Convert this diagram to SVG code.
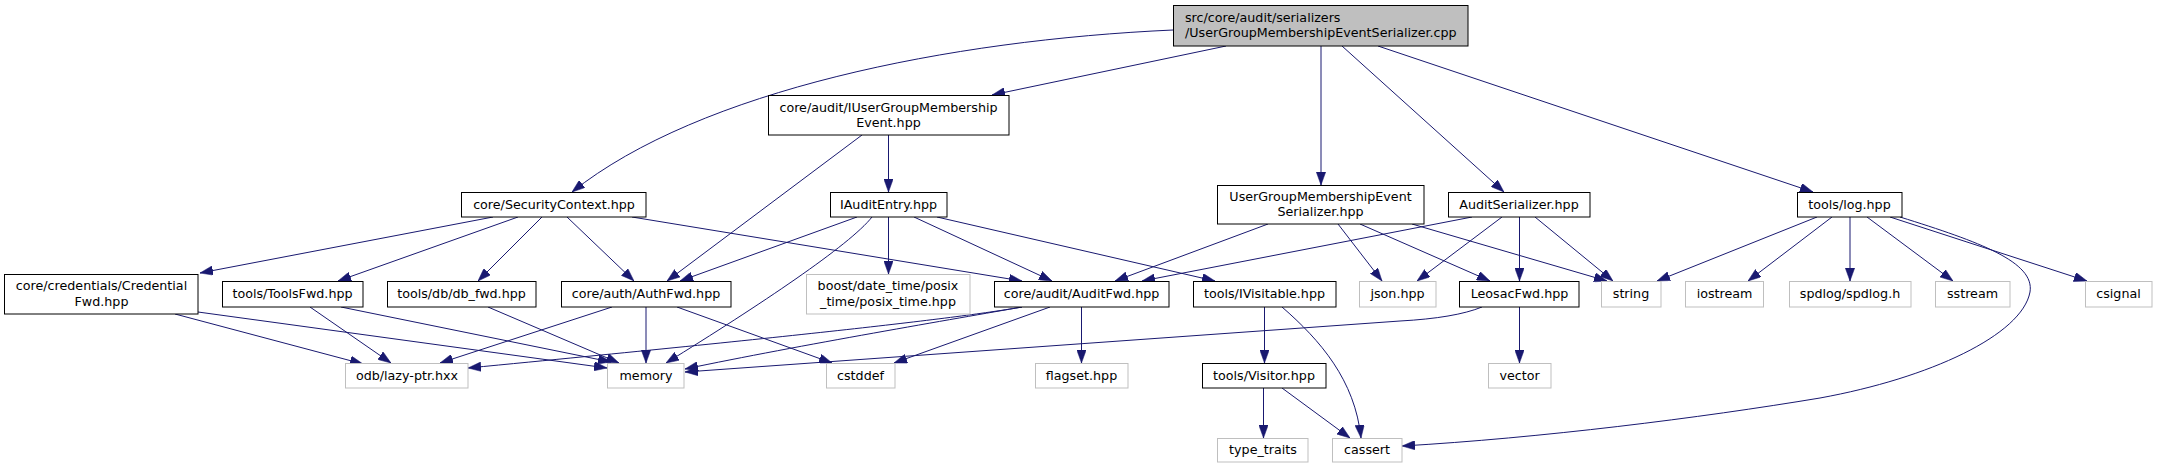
<svg xmlns="http://www.w3.org/2000/svg" width="2157" height="469" viewBox="0 0 2157 469">
<defs>
<style>
.n rect{fill:#ffffff;stroke:#000000;stroke-width:1}
.g rect{fill:#ffffff;stroke:#bfbfbf;stroke-width:1}
.r rect{fill:#bfbfbf;stroke:#000000;stroke-width:1}
text{font-family:"DejaVu Sans","Liberation Sans",sans-serif;font-size:12.7px;fill:#000000;text-anchor:middle}
text.l{text-anchor:start}
#edges path{fill:none;stroke:#191970;stroke-width:1;marker-end:url(#ah)}
</style>
<marker id="ah" viewBox="0 0 13 9.4" refX="13" refY="4.7" markerUnits="userSpaceOnUse" markerWidth="13" markerHeight="9.4" orient="auto">
<path d="M0,0 L13,4.7 L0,9.4 z" fill="#191970" stroke="#191970" stroke-width="0.5"/>
</marker>
</defs>
<rect x="0" y="0" width="2157" height="469" fill="#ffffff"/>
<g id="edges">
<path d="M1173,30 C950,40 700,90 572,192"/>
<path d="M1226,46 L992,95"/>
<path d="M1321,46 L1321,185"/>
<path d="M1342,46 L1504,192"/>
<path d="M1378,46 L1813,192"/>
<path d="M888.5,135 L888.5,192"/>
<path d="M862,135 L667,281"/>
<path d="M493,217 L200,273"/>
<path d="M518,217 L338,281"/>
<path d="M542,217 L478,281"/>
<path d="M567,217 L634,281"/>
<path d="M632,217 L1022,281"/>
<path d="M857,217 L680,281"/>
<path d="M888.5,217 L888.5,274"/>
<path d="M914,217 L1052,281"/>
<path d="M937,217 L1215,281"/>
<path d="M872,217 C850,245 760,305 666,363"/>
<path d="M1268,224 L1115,281"/>
<path d="M1338,224 L1382,281"/>
<path d="M1360,224 L1490,281"/>
<path d="M1412,224 L1607,281"/>
<path d="M1472,217 L1142,281"/>
<path d="M1502,217 L1417,281"/>
<path d="M1519.5,217 L1519.5,281"/>
<path d="M1535,217 L1613,281"/>
<path d="M1817,217 L1657,281"/>
<path d="M1832,217 L1748,281"/>
<path d="M1850,217 L1850,281"/>
<path d="M1867,217 L1953,281"/>
<path d="M1890,217 L2087,281"/>
<path d="M1900,217 C1980,242 2035,262 2030,292 C2022,335 1930,378 1820,398 C1700,418 1540,438 1402,446"/>
<path d="M175,314 L363,364"/>
<path d="M198,312 L607,368"/>
<path d="M310,307 L391,363"/>
<path d="M341,307 L611,362"/>
<path d="M488,307 L619,363"/>
<path d="M612,307 L440,363"/>
<path d="M646,307 L646,363"/>
<path d="M677,307 L832,363"/>
<path d="M1022,307 C960,318 800,336 468,368"/>
<path d="M1022,307 C960,318 800,345 685,369"/>
<path d="M1050,307 L894,363"/>
<path d="M1081.5,307 L1081.5,363"/>
<path d="M1264.5,307 L1264.5,363"/>
<path d="M1282,307 C1320,340 1355,380 1361,438"/>
<path d="M1263.5,388 L1263.5,438"/>
<path d="M1282,388 L1350,438"/>
<path d="M1482,307 Q1455,318 1400,321 L685,372"/>
<path d="M1519.5,307 L1519.5,363"/>
</g>
<g id="root" class="r"><rect x="1173.5" y="5.5" width="294.5" height="40.5"/><text class="l" x="1185" y="22">src/core/audit/serializers</text><text class="l" x="1185" y="37">/UserGroupMembershipEventSerializer.cpp</text></g>
<g id="iugme" class="n"><rect x="768.5" y="95.5" width="240.5" height="39.5"/><text x="888.5" y="111.5">core/audit/IUserGroupMembership</text><text x="888.5" y="126.7">Event.hpp</text></g>
<g id="securitycontext" class="n"><rect x="461.5" y="192.5" width="184.5" height="24.5"/><text x="554" y="208.8">core/SecurityContext.hpp</text></g>
<g id="iauditentry" class="n"><rect x="830.5" y="192.5" width="116.5" height="24.5"/><text x="888.5" y="208.8">IAuditEntry.hpp</text></g>
<g id="ugmes" class="n"><rect x="1217.5" y="185.5" width="206.5" height="38.5"/><text x="1320.5" y="201">UserGroupMembershipEvent</text><text x="1320.5" y="216.2">Serializer.hpp</text></g>
<g id="auditserializer" class="n"><rect x="1448.5" y="192.5" width="141.5" height="24.5"/><text x="1519" y="208.8">AuditSerializer.hpp</text></g>
<g id="log" class="n"><rect x="1797.5" y="192.5" width="104.5" height="24.5"/><text x="1849.5" y="208.8">tools/log.hpp</text></g>
<g id="credentialfwd" class="n"><rect x="4.5" y="274.5" width="193.5" height="39.5"/><text x="101.5" y="290.4">core/credentials/Credential</text><text x="101.5" y="305.6">Fwd.hpp</text></g>
<g id="toolsfwd" class="n"><rect x="222.5" y="281.5" width="140.5" height="25.5"/><text x="292.5" y="298.3">tools/ToolsFwd.hpp</text></g>
<g id="dbfwd" class="n"><rect x="387.5" y="281.5" width="148.5" height="25.5"/><text x="461.5" y="298.3">tools/db/db_fwd.hpp</text></g>
<g id="authfwd" class="n"><rect x="561.5" y="281.5" width="169.5" height="25.5"/><text x="646" y="298.3">core/auth/AuthFwd.hpp</text></g>
<g id="boost" class="g"><rect x="806.5" y="274.5" width="163.5" height="39.5"/><text x="888" y="290.4">boost/date_time/posix</text><text x="888" y="305.6">_time/posix_time.hpp</text></g>
<g id="auditfwd" class="n"><rect x="994.5" y="281.5" width="174.5" height="25.5"/><text x="1081.5" y="298.3">core/audit/AuditFwd.hpp</text></g>
<g id="ivisitable" class="n"><rect x="1193.5" y="281.5" width="142.5" height="25.5"/><text x="1264.5" y="298.3">tools/IVisitable.hpp</text></g>
<g id="json" class="g"><rect x="1359.5" y="281.5" width="76.5" height="25.5"/><text x="1397.5" y="298.3">json.hpp</text></g>
<g id="leosacfwd" class="n"><rect x="1459.5" y="281.5" width="119.5" height="25.5"/><text x="1519.5" y="298.3">LeosacFwd.hpp</text></g>
<g id="string" class="g"><rect x="1601.5" y="281.5" width="59.5" height="25.5"/><text x="1631" y="298.3">string</text></g>
<g id="iostream" class="g"><rect x="1685.5" y="281.5" width="78" height="25.5"/><text x="1724.5" y="298.3">iostream</text></g>
<g id="spdlog" class="g"><rect x="1789.5" y="281.5" width="121.5" height="25.5"/><text x="1850" y="298.3">spdlog/spdlog.h</text></g>
<g id="sstream" class="g"><rect x="1935.5" y="281.5" width="74.5" height="25.5"/><text x="1972.5" y="298.3">sstream</text></g>
<g id="csignal" class="g"><rect x="2085.5" y="281.5" width="66.5" height="25.5"/><text x="2118.5" y="298.3">csignal</text></g>
<g id="lazyptr" class="g"><rect x="345.5" y="363.5" width="122.5" height="24.5"/><text x="407" y="379.8">odb/lazy-ptr.hxx</text></g>
<g id="memory" class="g"><rect x="607.5" y="363.5" width="76.5" height="24.5"/><text x="646" y="379.8">memory</text></g>
<g id="cstddef" class="g"><rect x="826.5" y="363.5" width="68.5" height="24.5"/><text x="860.5" y="379.8">cstddef</text></g>
<g id="flagset" class="g"><rect x="1035.5" y="363.5" width="92.5" height="24.5"/><text x="1081.5" y="379.8">flagset.hpp</text></g>
<g id="visitor" class="n"><rect x="1202.5" y="363.5" width="123.5" height="24.5"/><text x="1264" y="379.8">tools/Visitor.hpp</text></g>
<g id="vector" class="g"><rect x="1488.5" y="363.5" width="62.5" height="24.5"/><text x="1519.5" y="379.8">vector</text></g>
<g id="typetraits" class="g"><rect x="1217.5" y="438.5" width="90.5" height="23.5"/><text x="1263" y="454.3">type_traits</text></g>
<g id="cassert" class="g"><rect x="1332.5" y="438.5" width="69.5" height="23.5"/><text x="1367" y="454.3">cassert</text></g>
</svg>
